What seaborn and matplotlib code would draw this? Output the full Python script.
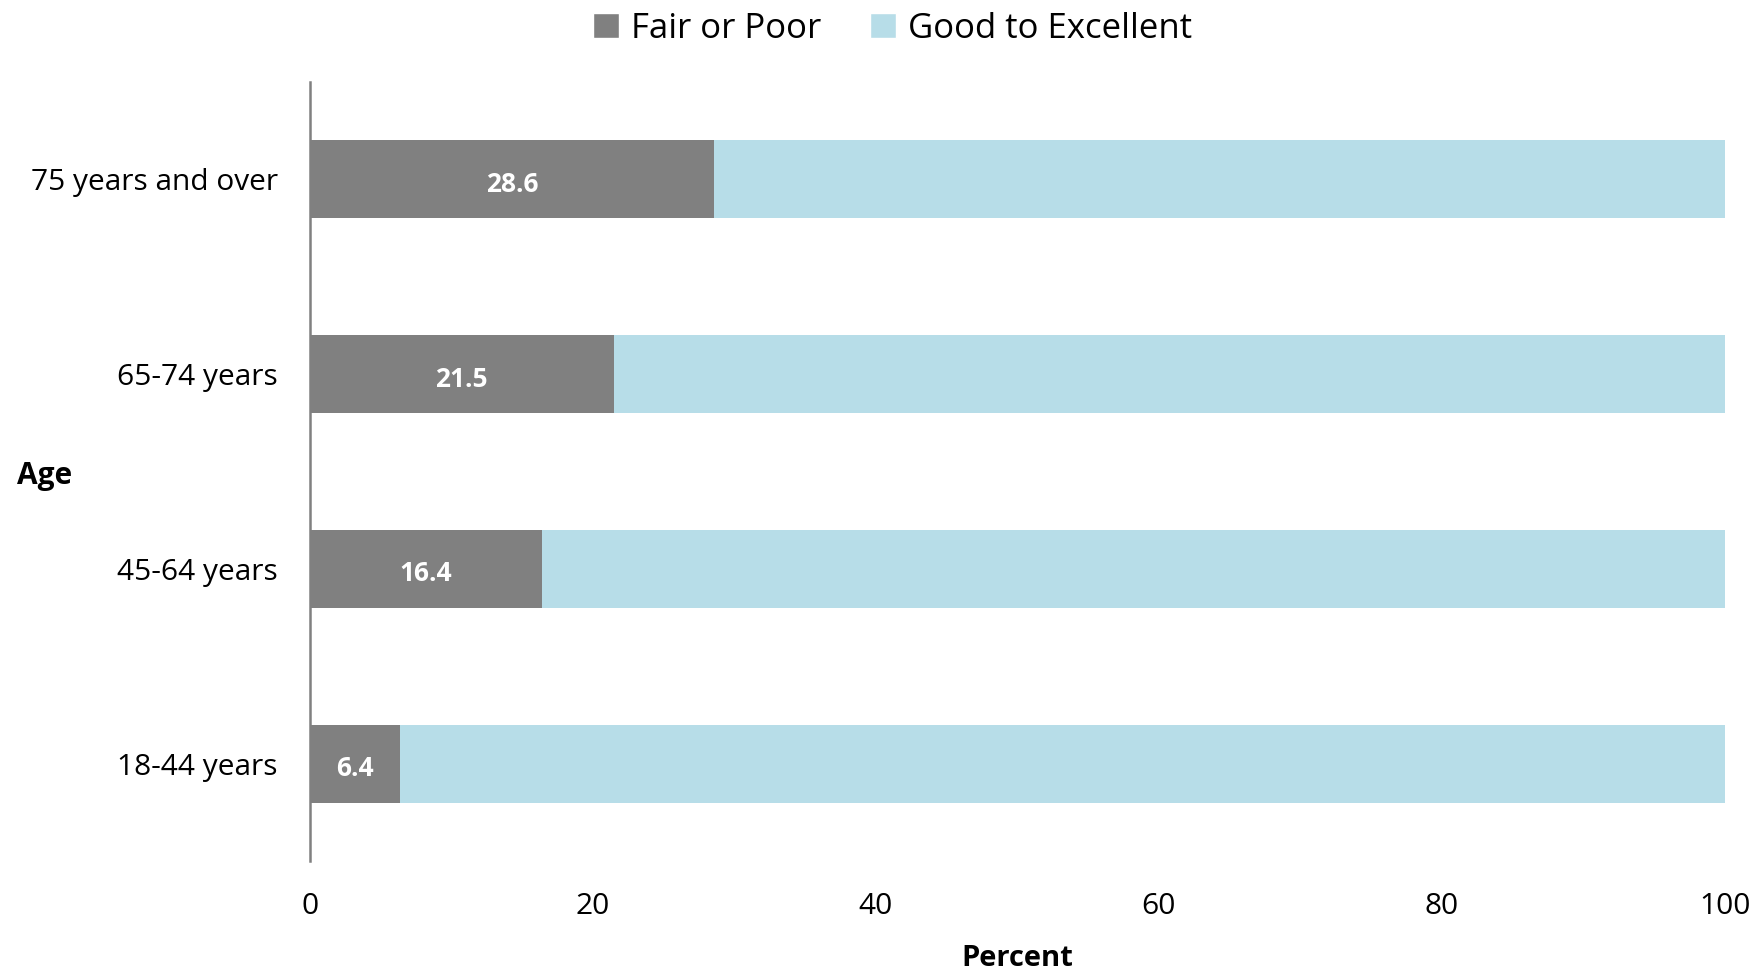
import matplotlib
matplotlib.use("Agg")
import matplotlib.pyplot as plt
from matplotlib.patches import Patch
import seaborn as sns
import pandas as pd

ages = ["75 years and over", "65-74 years", "45-64 years", "18-44 years"]
fair_or_poor = [28.6, 21.5, 16.4, 6.4]
good_to_excellent = [71.4, 78.5, 83.6, 93.6]
x_ticks = [0, 20, 40, 60, 80, 100]

FAIR_COLOR = "#808080"
GOOD_COLOR = "#b7dde8"

sns.set_theme(style="white")
plt.rcParams["font.family"] = ["Open Sans", "DejaVu Sans"]
plt.rcParams["text.color"] = "black"
plt.rcParams["axes.labelcolor"] = "black"

df = pd.DataFrame({
    "age": ages,
    "fair": fair_or_poor,
    "total": [f + g for f, g in zip(fair_or_poor, good_to_excellent)],
})

fig = plt.figure(figsize=(17.64, 9.71), dpi=100)
ax = fig.add_axes([0.1755, 0.1133, 0.8022, 0.8023])

# Stacked horizontal bars: full bar first, fair/poor share drawn over it
sns.barplot(data=df, x="total", y="age", order=ages, color=GOOD_COLOR,
            width=0.4, saturation=1, linewidth=0, ax=ax)
sns.barplot(data=df, x="fair", y="age", order=ages, color=FAIR_COLOR,
            width=0.4, saturation=1, linewidth=0, ax=ax)

for i, v in enumerate(fair_or_poor):
    ax.text(v / 2, i + 0.01, f"{v:.1f}", ha="center", va="center_baseline",
            color="white", fontsize=19, fontweight="bold")

ax.set_xlim(0, 100)
ax.set_ylim(3.5, -0.5)
ax.set_xticks(x_ticks)
ax.set_xticklabels([str(t) for t in x_ticks])
ax.tick_params(axis="both", length=0, labelsize=21.5, colors="black")
ax.tick_params(axis="x", pad=22)
ax.tick_params(axis="y", pad=23)
ax.set_ylabel("")
ax.set_xlabel("Percent", fontsize=21, fontweight="bold", labelpad=17)

for side in ["top", "right", "bottom"]:
    ax.spines[side].set_visible(False)
ax.spines["left"].set_color("#808080")
ax.spines["left"].set_linewidth(1.8)

fig.text(45 / 1764, 1 - 476 / 971, "Age", ha="center", va="center",
         fontsize=21.5, fontweight="bold", color="black")

handles = [Patch(facecolor=FAIR_COLOR, label="Fair or Poor"),
           Patch(facecolor=GOOD_COLOR, label="Good to Excellent")]
fig.legend(handles=handles, loc="upper center", bbox_to_anchor=(0.506, 1.02),
           ncol=2, frameon=False, fontsize=25, handlelength=0.75,
           handleheight=0.75, handletextpad=0.35, columnspacing=1.4)

fig.savefig("out.png", dpi=100, facecolor="white")
